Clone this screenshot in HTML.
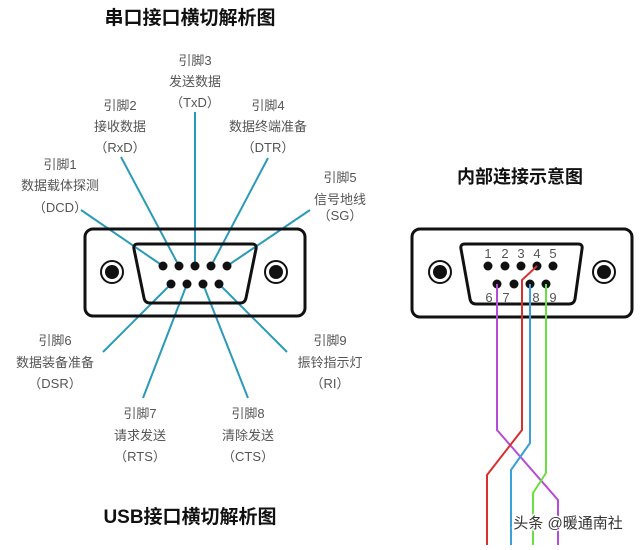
<!DOCTYPE html>
<html><head><meta charset="utf-8"><style>
body{margin:0;background:#fff;}
svg text{font-family:"Liberation Sans","Noto Sans CJK SC",sans-serif;}
.l{fill:#555;font-size:13px;text-anchor:middle;}
</style></head><body>
<svg width="640" height="545" viewBox="0 0 640 545" xmlns="http://www.w3.org/2000/svg">
<rect width="640" height="545" fill="#fff"/>
<text x="190" y="24" font-size="19" font-weight="bold" text-anchor="middle" fill="#111">串口接口横切解析图</text>
<text x="190" y="523" font-size="19" font-weight="bold" text-anchor="middle" fill="#111">USB接口横切解析图</text>
<text x="520" y="183" font-size="18" font-weight="bold" text-anchor="middle" fill="#111">内部连接示意图</text>

<g class="l">
<text x="195" y="65">引脚3</text><text x="195" y="86">发送数据</text><text x="195" y="107">（TxD）</text>
<text x="120" y="110">引脚2</text><text x="120" y="131">接收数据</text><text x="120" y="152">（RxD）</text>
<text x="268" y="110">引脚4</text><text x="268" y="131">数据终端准备</text><text x="268" y="152">（DTR）</text>
<text x="60" y="169">引脚1</text><text x="60" y="190">数据载体探测</text><text x="60" y="212">（DCD）</text>
<text x="340" y="182">引脚5</text><text x="340" y="204">信号地线</text><text x="340" y="220">（SG）</text>
<text x="55" y="345">引脚6</text><text x="55" y="367">数据装备准备</text><text x="55" y="388">（DSR）</text>
<text x="330" y="345">引脚9</text><text x="330" y="367">振铃指示灯</text><text x="330" y="388">（RI）</text>
<text x="140" y="418">引脚7</text><text x="140" y="440">请求发送</text><text x="140" y="461">（RTS）</text>
<text x="248" y="418">引脚8</text><text x="248" y="440">清除发送</text><text x="248" y="461">（CTS）</text>
</g>

<!-- left connector -->
<g stroke="#2a9ab8" stroke-width="2" fill="none">
<line x1="81" y1="210" x2="163" y2="266"/>
<line x1="121" y1="157" x2="179" y2="266"/>
<line x1="195" y1="112" x2="195" y2="266"/>
<line x1="268" y1="158" x2="211" y2="266"/>
<line x1="310" y1="210" x2="227" y2="266"/>
<line x1="103" y1="352" x2="171" y2="284"/>
<line x1="143" y1="398" x2="187" y2="284"/>
<line x1="248" y1="398" x2="203" y2="284"/>
<line x1="287" y1="352" x2="219" y2="284"/>
</g>
<rect x="85" y="229" width="220" height="87" rx="8" fill="none" stroke="#111" stroke-width="3"/>
<path d="M138 244 H252 Q257 244 256 249 L246 298 Q245 303 240 303 H150 Q145 303 144 298 L134 249 Q133 244 138 244 Z" fill="none" stroke="#111" stroke-width="3"/>
<g fill="#111">
<circle cx="163" cy="266" r="4.5"/><circle cx="179" cy="266" r="4.5"/><circle cx="195" cy="266" r="4.5"/><circle cx="211" cy="266" r="4.5"/><circle cx="227" cy="266" r="4.5"/>
<circle cx="171" cy="284" r="4.5"/><circle cx="187" cy="284" r="4.5"/><circle cx="203" cy="284" r="4.5"/><circle cx="219" cy="284" r="4.5"/>
<circle cx="112" cy="272" r="7"/><circle cx="276" cy="272" r="7"/>
</g>
<circle cx="112" cy="272" r="11" fill="none" stroke="#111" stroke-width="2"/>
<circle cx="276" cy="272" r="11" fill="none" stroke="#111" stroke-width="2"/>

<!-- right connector -->
<rect x="412" y="229" width="220" height="88" rx="8" fill="none" stroke="#111" stroke-width="3"/>
<path d="M465 244 H578 Q583 244 582 249 L575 299 Q574 304 569 304 H476 Q471 304 470 299 L461 249 Q460 244 465 244 Z" fill="none" stroke="#111" stroke-width="3"/>
<g fill="#111">
<circle cx="488" cy="266" r="4.5"/><circle cx="505" cy="266" r="4.5"/><circle cx="521" cy="266" r="4.5"/><circle cx="537" cy="266" r="4.5"/><circle cx="553" cy="266" r="4.5"/>
<circle cx="497" cy="284" r="4.5"/><circle cx="514" cy="284" r="4.5"/><circle cx="530" cy="284" r="4.5"/><circle cx="546" cy="284" r="4.5"/>
<circle cx="440" cy="272" r="7"/><circle cx="604" cy="272" r="7"/>
</g>
<circle cx="440" cy="272" r="11" fill="none" stroke="#111" stroke-width="2"/>
<circle cx="604" cy="272" r="11" fill="none" stroke="#111" stroke-width="2"/>
<g fill="#555" font-size="13" text-anchor="middle">
<text x="488" y="258">1</text><text x="505" y="258">2</text><text x="521" y="258">3</text><text x="537" y="258">4</text><text x="553" y="258">5</text>
<text x="489" y="302">6</text><text x="506" y="302">7</text><text x="536" y="302">8</text><text x="553" y="302">9</text>
</g>
<g fill="none" stroke-width="2">
<polyline points="497,284 497,430 558,500 558,545" stroke="#b84ad8"/>
<polyline points="537,266 522,280 522,430 487,475 487,545" stroke="#d83030"/>
<polyline points="530,284 530,443 511,470 511,545" stroke="#3aa0d8"/>
<polyline points="546,284 546,473 533,493 533,545" stroke="#6ae040"/>
</g>
<text x="568" y="528" font-size="15" text-anchor="middle" fill="#333" stroke="#fff" stroke-width="3" paint-order="stroke">头条 @暖通南社</text>
</svg>
</body></html>
